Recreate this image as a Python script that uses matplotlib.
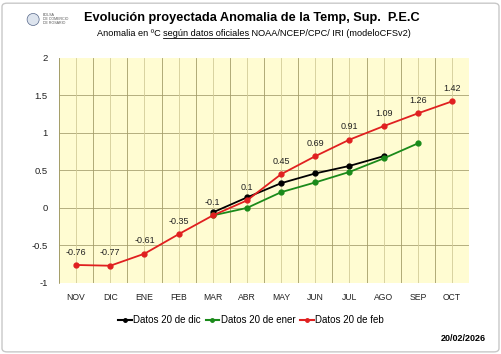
import matplotlib
matplotlib.use("Agg")
import matplotlib.pyplot as plt
import matplotlib.patches as mpat
from matplotlib.lines import Line2D
import numpy as np

plt.rcParams['font.family'] = ['Liberation Sans', 'DejaVu Sans']

months = ["NOV", "DIC", "ENE", "FEB", "MAR", "ABR", "MAY", "JUN", "JUL", "AGO", "SEP", "OCT"]
datos_dic = [None, None, None, None, -0.06, 0.14, 0.33, 0.46, 0.56, 0.69, None, None]
datos_ene = [None, None, None, None, -0.10, 0.0, 0.21, 0.34, 0.48, 0.66, 0.86, None]
datos_feb = [-0.76, -0.77, -0.61, -0.35, -0.1, 0.1, 0.45, 0.69, 0.91, 1.09, 1.26, 1.42]
series = [("Datos 20 de dic", datos_dic, "#000000"),
          ("Datos 20 de ener", datos_ene, "#1a8a1a"),
          ("Datos 20 de feb", datos_feb, "#e02020")]

fig = plt.figure(figsize=(5.02, 3.54), dpi=100)
fig.patch.set_facecolor("white")
ax = fig.add_axes([0.1175, 0.2006, 0.817, 0.636])
ax.set_facecolor("#fffcd2")

x = np.arange(len(months))
ax.set_xlim(-0.5, len(months) - 0.5)
ax.set_ylim(-1, 2)

# grid
for yv in np.arange(-0.5, 2.0, 0.5):
    ax.axhline(yv, color="#a8a272", lw=0.6, zorder=1)
for xv in np.arange(-0.5, len(months), 1.0):
    ax.axvline(xv, color="#a39d68", lw=0.6, zorder=1)
for xv in x:
    ax.axvline(xv, color="#d2cc98", lw=0.6, zorder=1)

handles = []
for label, vals, col in series:
    xs = [i for i, v in enumerate(vals) if v is not None]
    ys = [v for v in vals if v is not None]
    ax.plot(xs, ys, color=col, lw=1.3, marker="o", ms=3.5, zorder=3)
    handles.append(Line2D([], [], color=col, lw=1.5, marker="o", ms=2.5, label=label))

for i, v in enumerate(datos_feb):
    ax.annotate(f"{v:g}", (i, v), xytext=(0, 6), textcoords="offset points",
                ha="center", va="bottom", fontsize=6.5, color="#222222", zorder=4)

ax.set_xticks(x)
ax.set_xticklabels(months, fontsize=6.2, color="#222222")
ax.set_yticks(np.arange(-1, 2.01, 0.5))
ax.set_yticklabels([f"{v:g}" for v in np.arange(-1, 2.01, 0.5)], fontsize=6.8, color="#222222")
ax.tick_params(axis="x", length=0, pad=7)
ax.tick_params(axis="y", length=0, pad=8)
for s in ["top", "right", "bottom"]:
    ax.spines[s].set_visible(False)
ax.spines["left"].set_color("#a39d68")
ax.spines["left"].set_linewidth(0.6)

fig.legend(handles=handles, loc="center", bbox_to_anchor=(0.5, 0.096), ncol=3,
           frameon=False, fontsize=7, handlelength=1.4, handletextpad=0.15,
           columnspacing=0.5)

fig.text(0.502, 0.948, "Evolución proyectada Anomalia de la Temp, Sup.  P.E.C",
         ha="center", va="center", fontsize=9.2, fontweight="bold")

# subtitle with underlined part
parts = ["Anomalia en ºC ", "según datos oficiales", " NOAA/NCEP/CPC/ IRI (modeloCFSv2)"]
sub_size = 6.6
fig.canvas.draw()
renderer = fig.canvas.get_renderer()
tmp = [fig.text(0, 0, p, fontsize=sub_size) for p in parts]
widths = [t.get_window_extent(renderer).width for t in tmp]
for t in tmp:
    t.remove()
total = sum(widths)
xpix = 254 - total / 2
ypix = 354 - 33
for p, w in zip(parts, widths):
    fig.text(xpix / 502, ypix / 354, p, fontsize=sub_size, ha="left", va="center")
    if p == parts[1]:
        fig.add_artist(Line2D([xpix / 502, (xpix + w) / 502], [(ypix - 5) / 354] * 2,
                              color="black", lw=0.6))
    xpix += w

fig.text(0.086, 0.945, "BOLSA\nDE COMERCIO\nDE ROSARIO", fontsize=2.6, color="#555555",
         ha="left", va="center", linespacing=1.0)
fig.add_artist(mpat.Ellipse((0.066, 0.945), 0.034 * 354 / 502, 0.034, transform=fig.transFigure,
                            facecolor="#dde4ee", edgecolor="#556688", lw=0.5))

fig.text(0.968, 0.044, "20/02/2026", ha="right", va="center", fontsize=6.5, fontweight="bold")

fig.add_artist(mpat.FancyBboxPatch((0.004, 0.006), 0.99, 0.985, boxstyle="round,pad=0,rounding_size=0.01",
                                   transform=fig.transFigure, facecolor="none",
                                   edgecolor="#c8c8c8", lw=1.0))

fig.savefig("out.png", dpi=100)
